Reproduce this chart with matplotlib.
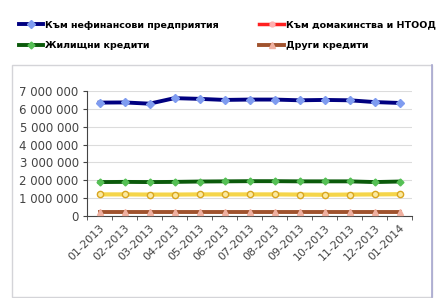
import matplotlib.pyplot as plt
from matplotlib.lines import Line2D
from matplotlib.patches import Rectangle
import numpy as np

# months on the x axis
months = ["01-2013", "02-2013", "03-2013", "04-2013", "05-2013", "06-2013", "07-2013",
          "08-2013", "09-2013", "10-2013", "11-2013", "12-2013", "01-2014"]

# values
nonfinancial = [6350000, 6360000, 6290000, 6600000, 6560000, 6500000, 6520000,
                6520000, 6480000, 6500000, 6480000, 6380000, 6330000]
housing = [1900000, 1910000, 1900000, 1910000, 1930000, 1940000, 1950000,
           1950000, 1940000, 1940000, 1940000, 1900000, 1930000]
consumer = [1210000, 1210000, 1200000, 1200000, 1210000, 1210000, 1210000,
            1210000, 1200000, 1190000, 1200000, 1210000, 1220000]
other = [240000, 240000, 240000, 240000, 240000, 240000, 240000,
         240000, 240000, 240000, 240000, 240000, 240000]

yticks = [0, 1000000, 2000000, 3000000, 4000000, 5000000, 6000000, 7000000]
ytick_labels = ["0", "1 000 000", "2 000 000", "3 000 000", "4 000 000",
                "5 000 000", "6 000 000", "7 000 000"]

fig = plt.figure(figsize=(4.37, 2.98), dpi=100)
fig.patch.set_facecolor("white")

# chart area frame
fig.patches.append(Rectangle((12 / 437, 1 / 298), 420 / 437, 232 / 298,
                             transform=fig.transFigure, fill=False,
                             edgecolor="#d4d4d8", linewidth=1.0))
fig.add_artist(Line2D([432 / 437, 432 / 437], [1 / 298, 233 / 298],
                      transform=fig.transFigure, color="#a8a8d0", linewidth=1.2))

ax = fig.add_axes([87 / 437, 1 - 216 / 298, 325 / 437, 125 / 298])
x = np.arange(len(months))

l_nf, = ax.plot(x, nonfinancial, color="#000080", linewidth=2.8,
                marker="D", markersize=4, markerfacecolor="#7f9cf0",
                markeredgecolor="#7f9cf0", zorder=4)
l_cons, = ax.plot(x, consumer, color="#f5d54a", linewidth=3.0,
                  marker="o", markersize=4.5, markerfacecolor="#fbeaa0",
                  markeredgecolor="#d9a520", zorder=3)
l_h, = ax.plot(x, housing, color="#0b5a0b", linewidth=2.8,
               marker="D", markersize=3.5, markerfacecolor="#55c055",
               markeredgecolor="#55c055", zorder=3)
l_o, = ax.plot(x, other, color="#a0522d", linewidth=2.8,
               marker="^", markersize=4, markerfacecolor="#f0b0a0",
               markeredgecolor="#f0b0a0", zorder=3)

ax.set_xlim(-0.5, len(months) - 0.5)
ax.set_ylim(0, 7000000)
ax.set_yticks(yticks)
ax.set_yticklabels(ytick_labels, fontsize=8.5, color="#444444")
ax.set_xticks(x)
ax.set_xticklabels(months, rotation=45, ha="right", rotation_mode="anchor",
                   fontsize=8, color="#444444")
ax.set_xticks(np.arange(len(months) + 1) - 0.5, minor=True)
ax.tick_params(axis="x", which="major", length=0, pad=5)
ax.tick_params(axis="x", which="minor", length=3, color="#444444")
ax.tick_params(axis="y", length=3, color="#444444", pad=3)

ax.grid(axis="y", color="#dcdcdc", linewidth=0.8)
ax.set_axisbelow(True)
for side in ["top", "right"]:
    ax.spines[side].set_visible(False)
ax.spines["left"].set_color("#444444")
ax.spines["bottom"].set_color("#444444")

# legend (two columns above the plot)
red_proxy = Line2D([], [], color="#ff2020", linewidth=2.5, marker="o",
                   markersize=3.5, markerfacecolor="#ffb0b0",
                   markeredgecolor="#ffb0b0")
handles = [l_nf, l_h, red_proxy, l_o]
labels = ["Към нефинансови предприятия", "Жилищни кредити",
          "Към домакинства и НТООД", "Други кредити"]
fig.legend(handles, labels, loc="upper left", bbox_to_anchor=(10 / 437, 1 - 12 / 298),
           ncol=2, frameon=False, handlelength=2.6,
           handletextpad=0.2, columnspacing=4.3, labelspacing=1.25,
           prop={"weight": "bold", "size": 6.8})

fig.savefig("out.png", dpi=100)
